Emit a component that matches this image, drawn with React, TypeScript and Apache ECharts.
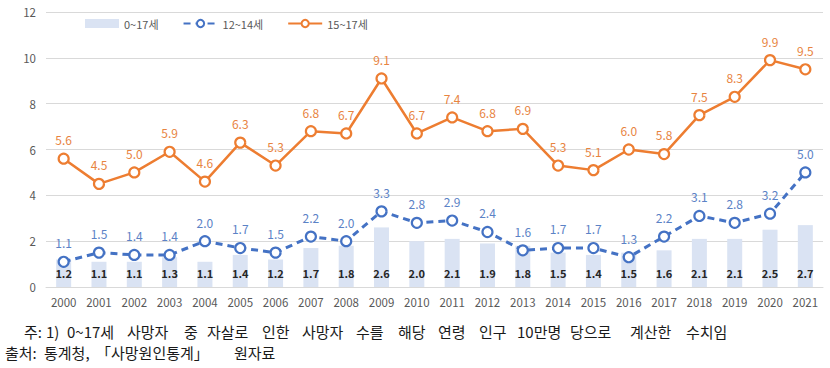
import React, { useEffect, useRef } from "react";
import * as echarts from "echarts";

const years = ["2000","2001","2002","2003","2004","2005","2006","2007","2008","2009","2010","2011","2012","2013","2014","2015","2016","2017","2018","2019","2020","2021"];
const total0to17 = [1.2,1.1,1.1,1.3,1.1,1.4,1.2,1.7,1.8,2.6,2.0,2.1,1.9,1.8,1.5,1.4,1.5,1.6,2.1,2.1,2.5,2.7];
const age12to14 = [1.1,1.5,1.4,1.4,2.0,1.7,1.5,2.2,2.0,3.3,2.8,2.9,2.4,1.6,1.7,1.7,1.3,2.2,3.1,2.8,3.2,5.0];
const age15to17 = [5.6,4.5,5.0,5.9,4.6,6.3,5.3,6.8,6.7,9.1,6.7,7.4,6.8,6.9,5.3,5.1,6.0,5.8,7.5,8.3,9.9,9.5];
const seriesNames = ["0~17세", "12~14세", "15~17세"];
const noteWords = ["주:", "1)", "0~17세", "사망자", "중", "자살로", "인한", "사망자", "수를", "해당", "연령", "인구", "10만명", "당으로", "계산한", "수치임"];
const sourceWords = ["출처:", "통계청,", "「사망원인통계」", "원자료"];

// layout of the footnote words (x positions of each word start)
const noteX = [24, 46, 67, 127, 184, 207, 262, 302, 356, 398, 438, 479, 517, 570, 630, 686];
const sourceX = [5, 44, 96, 234];

const FONT = "'Noto Sans CJK KR', 'Noto Sans', sans-serif";

export default function App() {
  const ref = useRef<HTMLDivElement>(null);
  useEffect(() => {
    if (!ref.current) return;
    const chart = echarts.init(ref.current, null, { renderer: "svg" });
    const footStyle = { fill: "#1a1a1a", fontSize: 15, fontFamily: FONT, textVerticalAlign: "middle" };
    const graphics: any[] = [];
    noteWords.forEach((w, i) => {
      graphics.push({ type: "text", x: noteX[i], y: 331, style: { ...footStyle, text: w } });
    });
    sourceWords.forEach((w, i) => {
      graphics.push({ type: "text", x: sourceX[i], y: 352, style: { ...footStyle, text: w } });
    });
    chart.setOption({
      animation: false,
      backgroundColor: "#ffffff",
      textStyle: { fontFamily: FONT },
      grid: { left: 46, right: 7, top: 12, bottom: 81 },
      legend: {
        left: 80,
        top: 13,
        itemWidth: 34,
        itemHeight: 9,
        itemGap: 24,
        textStyle: { color: "#595959", fontSize: 11, fontFamily: FONT },
        data: [
          { name: seriesNames[0], icon: "rect" },
          { name: seriesNames[1] },
          { name: seriesNames[2] },
        ],
      },
      xAxis: {
        type: "category",
        data: years,
        axisTick: { show: false },
        axisLine: { lineStyle: { color: "#d9d9d9" } },
        axisLabel: { color: "#595959", fontSize: 11.5, margin: 9 },
      },
      yAxis: {
        type: "value",
        min: 0,
        max: 12,
        interval: 2,
        axisLabel: { color: "#595959", fontSize: 11.5, margin: 10 },
        splitLine: { lineStyle: { color: "#d9d9d9" } },
        axisLine: { show: false },
        axisTick: { show: false },
      },
      series: [
        {
          name: seriesNames[0],
          type: "bar",
          data: total0to17,
          barWidth: 15,
          itemStyle: { color: "#dae3f3" },
          z: 1,
          label: {
            show: true,
            position: "insideBottom",
            distance: 9,
            color: "#262626",
            fontWeight: "bold",
            fontSize: 11,
            formatter: (p: any) => p.value.toFixed(1),
          },
        },
        {
          name: seriesNames[1],
          type: "line",
          data: age12to14,
          symbol: "circle",
          symbolSize: 10,
          z: 3,
          lineStyle: { color: "#4472c4", width: 3, type: [7, 5] },
          itemStyle: { color: "#ffffff", borderColor: "#4472c4", borderWidth: 2.2 },
          label: {
            show: true,
            position: "top",
            distance: 7,
            color: "#5b82c6",
            fontSize: 12,
            formatter: (p: any) => p.value.toFixed(1),
          },
        },
        {
          name: seriesNames[2],
          type: "line",
          data: age15to17,
          symbol: "circle",
          symbolSize: 10,
          z: 4,
          lineStyle: { color: "#ed7d31", width: 2.5 },
          itemStyle: { color: "#ffffff", borderColor: "#ed7d31", borderWidth: 2.2 },
          label: {
            show: true,
            position: "top",
            distance: 7,
            color: "#e8843f",
            fontSize: 12,
            formatter: (p: any) => p.value.toFixed(1),
          },
        },
      ],
      graphic: graphics,
    });
    return () => chart.dispose();
  }, []);
  return (
    <div
      ref={ref}
      style={{ position: "fixed", left: 0, top: 0, width: 830, height: 368 }}
    />
  );
}
